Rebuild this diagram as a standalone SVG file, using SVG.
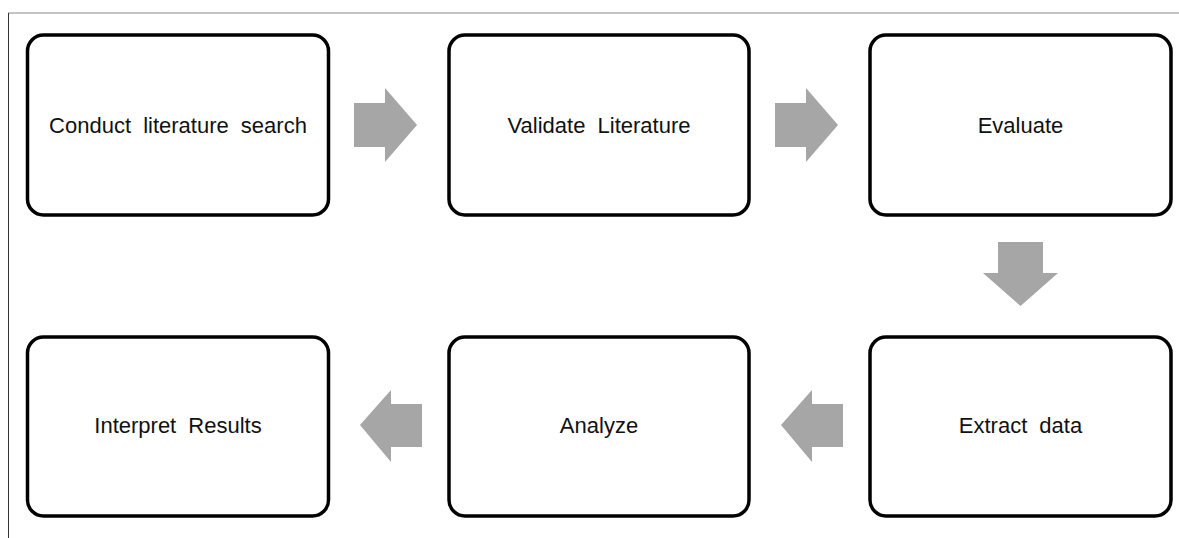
<svg xmlns="http://www.w3.org/2000/svg" width="1179" height="538" viewBox="0 0 1179 538">
  <style>
    .box { fill: #ffffff; stroke: #000000; stroke-width: 3.5; }
    .lbl { font-family: "Liberation Sans", Arial, sans-serif; font-size: 22px; fill: #111111; text-anchor: middle; word-spacing: 6px; }
    .arrow { fill: #a6a6a6; }
  </style>
  <rect width="1179" height="538" fill="#ffffff"/>
  <!-- frame -->
  <line x1="8" y1="13" x2="1179" y2="13" stroke="#8a8a8a" stroke-width="1.2"/>
  <line x1="8.5" y1="13" x2="8.5" y2="538" stroke="#333333" stroke-width="1"/>

  <!-- connectors -->
  <g id="connectors">
    <polygon class="arrow" points="354,103 385,103 385,88 417,125 385,162 385,147 354,147"/>
    <polygon class="arrow" points="775,103 806,103 806,88 838,125 806,162 806,147 775,147"/>
    <polygon class="arrow" points="998,242 1043,242 1043,273 1058,273 1020.5,306 983,273 998,273"/>
    <polygon class="arrow" points="843,404 812,404 812,390 781,425 812,462 812,447 843,447"/>
    <polygon class="arrow" points="422,404 391,404 391,390 360,425 391,462 391,447 422,447"/>
  </g>

  <g id="node-search">
    <rect class="box" x="27.5" y="35" width="301" height="180" rx="16"/>
    <text class="lbl" x="178" y="133">Conduct literature search</text>
  </g>
  <g id="node-validate">
    <rect class="box" x="449" y="35" width="300" height="180" rx="16"/>
    <text class="lbl" x="599" y="133">Validate Literature</text>
  </g>
  <g id="node-evaluate">
    <rect class="box" x="870" y="35" width="301" height="180" rx="16"/>
    <text class="lbl" x="1020.5" y="133">Evaluate</text>
  </g>
  <g id="node-extract">
    <rect class="box" x="870" y="337" width="301" height="179" rx="16"/>
    <text class="lbl" x="1020.5" y="433">Extract data</text>
  </g>
  <g id="node-analyze">
    <rect class="box" x="449" y="337" width="300" height="179" rx="16"/>
    <text class="lbl" x="599" y="433">Analyze</text>
  </g>
  <g id="node-interpret">
    <rect class="box" x="27.5" y="337" width="301" height="179" rx="16"/>
    <text class="lbl" x="178" y="433">Interpret Results</text>
  </g>
</svg>
